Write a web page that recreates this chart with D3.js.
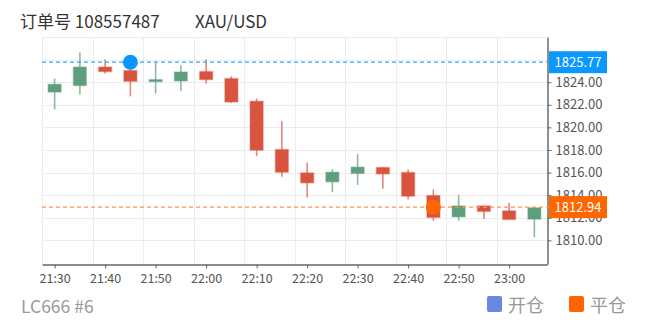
<!DOCTYPE html>
<html>
<head>
<meta charset="utf-8">
<script src="https://cdn.jsdelivr.net/npm/d3@7"></script>
<style>
  body { margin: 0; background: #fff; }
  svg { display: block; font-family: "Noto Sans CJK SC", "Noto Sans", sans-serif; }
</style>
</head>
<body>
<svg width="652" height="325"></svg>
<script>
// 5 minute candles, XAU/USD
var times = ["21:30","21:35","21:40","21:45","21:50","21:55","22:00","22:05","22:10","22:15",
             "22:20","22:25","22:30","22:35","22:40","22:45","22:50","22:55","23:00","23:05"];
var open  = [1823.13,1823.70,1825.34,1825.03,1824.05,1824.11,1824.94,1824.32,1822.31,1818.04,
             1815.97,1815.18,1815.92,1816.45,1816.01,1813.97,1812.08,1813.05,1812.61,1811.88];
var high  = [1824.32,1826.62,1826.02,1825.90,1825.73,1825.49,1826.02,1824.52,1822.55,1820.57,
             1816.89,1816.30,1817.63,1816.47,1816.27,1814.50,1814.03,1813.08,1813.32,1812.90];
var low   = [1821.58,1822.90,1824.76,1822.75,1822.99,1823.22,1823.88,1822.16,1817.45,1815.62,
             1813.80,1814.27,1814.91,1814.56,1813.62,1811.73,1811.73,1811.90,1811.83,1810.26];
var close = [1823.81,1825.34,1824.94,1824.08,1824.23,1824.90,1824.23,1822.25,1817.98,1816.03,
             1815.09,1816.03,1816.48,1815.88,1813.91,1812.03,1813.05,1812.56,1811.85,1812.88];

var yTicks = [1810, 1812, 1814, 1816, 1818, 1820, 1822, 1824];
var xTicks = ["21:30","21:40","21:50","22:00","22:10","22:20","22:30","22:40","22:50","23:00"];

var openOrder  = {time: "21:45", price: 1825.77};
var closeOrder = {time: "22:45", price: 1812.94};

var orderNo = "108557487", symbol = "XAU/USD", account = "LC666 #6";
var legendNames = ["开仓", "平仓"];

var parseT = d3.timeParse("%Y-%m-%d %H:%M:%S");
var t = s => parseT("2021-06-01 " + (s.length == 5 ? s + ":00" : s));

var svg = d3.select("svg");

var x = d3.scaleTime()
  .domain([t("21:27:30"), t("23:07:30")])
  .range([42, 547]);
var y = d3.scaleLinear()
  .domain([1807.88, 1828])
  .range([264.3, 37]);

var up = "#5f9e7c", down = "#d9543f";
var upWick = "#8dbb9f", downWick = "#e3877b";

// grid
var grid = svg.append("g").attr("stroke", "#ececec").attr("stroke-width", 1);
grid.selectAll(".gy")
  .data(yTicks.concat([1826, 1828]))
  .enter().append("line")
  .attr("x1", 42).attr("x2", 547)
  .attr("y1", d => Math.round(y(d)) + 0.5).attr("y2", d => Math.round(y(d)) + 0.5);
grid.selectAll(".gx")
  .data(d3.timeMinute.every(10).range(t("21:20"), t("23:00")).map(d => new Date(+d + 450000)).filter(d => d >= x.domain()[0]))
  .enter().append("line")
  .attr("x1", d => Math.round(x(d)) + 0.5).attr("x2", d => Math.round(x(d)) + 0.5)
  .attr("y1", 37).attr("y2", 264);

// axes
var xAxis = svg.append("g")
  .attr("transform", "translate(0,264.5)")
  .call(d3.axisBottom(x)
    .tickValues(xTicks.map(t))
    .tickFormat(d3.timeFormat("%H:%M"))
    .tickSize(4).tickSizeOuter(0));
xAxis.select(".domain").attr("stroke", "#666").attr("stroke-width", 1.5);
xAxis.selectAll(".tick line").attr("stroke", "#666");
xAxis.selectAll("text").attr("fill", "#555").attr("font-size", 12.5)
  .attr("font-family", "'Noto Sans CJK SC', sans-serif").attr("dy", "0.9em");

var yAxis = svg.append("g")
  .attr("transform", "translate(547.5,0)")
  .call(d3.axisRight(y)
    .tickValues(yTicks)
    .tickFormat(d3.format(".2f"))
    .tickSize(4).tickSizeOuter(0));
yAxis.select(".domain").attr("stroke", "#444").attr("stroke-width", 1.2);
yAxis.selectAll(".tick line").attr("stroke", "#666");
yAxis.selectAll("text").attr("fill", "#555").attr("font-size", 13)
  .attr("font-family", "'Noto Sans CJK SC', sans-serif").attr("x", 8);

// candles
var candles = times.map((d, i) => ({t: t(d), o: open[i], h: high[i], l: low[i], c: close[i]}));
var cg = svg.append("g");
cg.selectAll(".wick")
  .data(candles)
  .enter().append("line")
  .attr("x1", d => x(d.t)).attr("x2", d => x(d.t))
  .attr("y1", d => y(d.h)).attr("y2", d => y(d.l))
  .attr("stroke", d => d.c >= d.o ? upWick : downWick)
  .attr("stroke-width", 1.6);
cg.selectAll(".body")
  .data(candles)
  .enter().append("rect")
  .attr("x", d => x(d.t) - 6.5)
  .attr("width", 13)
  .attr("y", d => y(Math.max(d.o, d.c)))
  .attr("height", d => Math.max(1.5, Math.abs(y(d.o) - y(d.c))))
  .attr("fill", d => d.c >= d.o ? up : down)
  .attr("stroke", d => d.c >= d.o ? up : down)
  .attr("stroke-opacity", 0.35)
  .attr("stroke-width", 1.5);

// order lines
var orders = [
  {o: openOrder, line: "#33a6ff", fill: "#0a98ff", box: "#0a98ff"},
  {o: closeOrder, line: "#ff9250", fill: "#ff6600", box: "#ff6600"}
];
orders.forEach(function(d) {
  svg.append("line")
    .attr("x1", 42).attr("x2", 550)
    .attr("y1", y(d.o.price)).attr("y2", y(d.o.price))
    .attr("stroke", d.line).attr("stroke-width", 1.3)
    .attr("stroke-dasharray", "4,3");
  svg.append("circle")
    .attr("cx", x(t(d.o.time))).attr("cy", y(d.o.price))
    .attr("r", 7.5).attr("fill", d.fill);
  svg.append("rect")
    .attr("x", 549).attr("y", y(d.o.price) - 11)
    .attr("width", 58).attr("height", 22)
    .attr("fill", d.box);
  svg.append("text")
    .attr("x", 578).attr("y", y(d.o.price))
    .attr("dy", "0.36em")
    .attr("text-anchor", "middle")
    .attr("fill", "#fff").attr("font-size", 13)
    .text(d3.format(".2f")(d.o.price));
});

// title
svg.append("text")
  .attr("x", 20).attr("y", 28)
  .attr("fill", "#333").attr("font-size", 17)
  .text("订单号 " + orderNo);
svg.append("text")
  .attr("x", 195).attr("y", 28)
  .attr("fill", "#333").attr("font-size", 17)
  .text(symbol);

// footer
svg.append("text")
  .attr("x", 21).attr("y", 313)
  .attr("fill", "#999").attr("font-size", 17.5)
  .text(account);

var legendColors = ["#6a88e0", "#ff6600"];
var lg = svg.selectAll(".legend")
  .data(legendNames)
  .enter().append("g")
  .attr("transform", (d, i) => "translate(" + (487 + i * 82) + ",296)");
lg.append("rect")
  .attr("width", 15).attr("height", 16).attr("rx", 2)
  .attr("fill", (d, i) => legendColors[i]);
lg.append("text")
  .attr("x", 21).attr("y", 16)
  .attr("fill", "#999").attr("font-size", 18)
  .text(d => d);
</script>
</body>
</html>
